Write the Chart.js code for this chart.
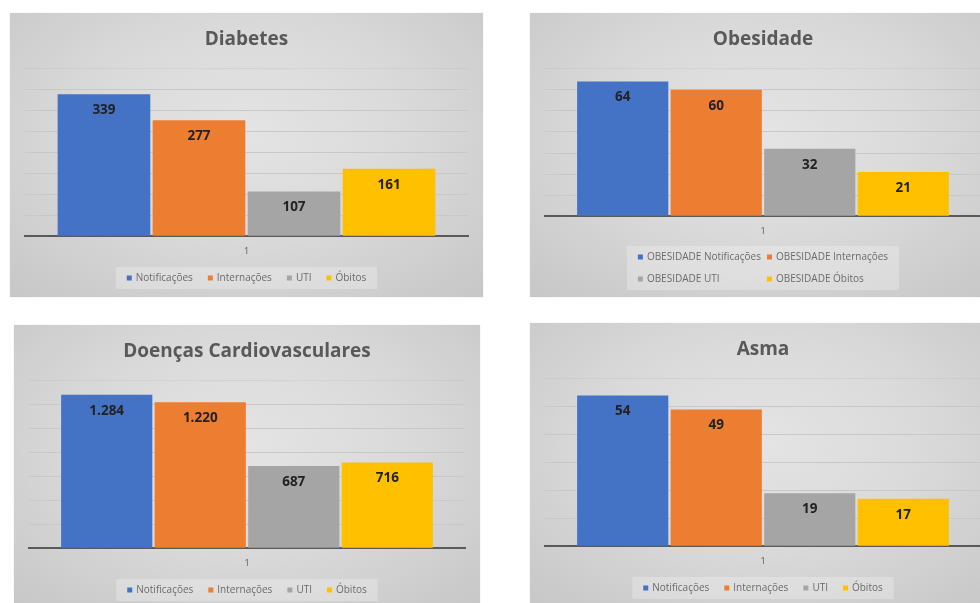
<!DOCTYPE html>
<html>
<head>
<meta charset="utf-8">
<script src="https://cdn.jsdelivr.net/npm/chart.js@4.4.1/dist/chart.umd.min.js"></script>
<style>
  html, body { margin: 0; padding: 0; background: #fff; overflow: hidden; }
  body { width: 980px; height: 603px; position: relative; }
  canvas.panel {
    position: absolute;
    background: radial-gradient(ellipse 75% 80% at 50% 42%, #e4e4e4 0%, #dadada 45%, #c6c6c6 100%);
    box-shadow: 0 0 1px rgba(0,0,0,0.15);
  }
</style>
</head>
<body>
<canvas id="diabetes" class="panel" width="473" height="284" style="left:10px;top:13px"></canvas>
<canvas id="obesidade" class="panel" width="466" height="284" style="left:530px;top:13px"></canvas>
<canvas id="cardio" class="panel" width="466" height="284" style="left:14px;top:325px"></canvas>
<canvas id="asma" class="panel" width="466" height="284" style="left:530px;top:323px"></canvas>
<script>
// one category per chart, four series
var categories = ['1'];
var seriesNames = ['Notificações', 'Internações', 'UTI', 'Óbitos'];
var obesidadeNames = ['OBESIDADE Notificações', 'OBESIDADE Internações', 'OBESIDADE UTI', 'OBESIDADE Óbitos'];
var seriesColors = ['#4472C4', '#ED7D31', '#A5A5A5', '#FFC000'];

var diabetesValues = [339, 277, 107, 161];
var obesidadeValues = [64, 60, 32, 21];
var cardioValues = [1284, 1220, 687, 716];
var asmaValues = [54, 49, 19, 17];

// value axis ranges (no tick labels are shown, only gridlines)
var diabetesAxis = [0, 400, 50];
var obesidadeAxis = [0, 70, 10];
var cardioAxis = [0, 1400, 200];
var asmaAxis = [0, 60, 10];

Chart.defaults.font.family = '"Open Sans", sans-serif';

function fmt(v) {
  return String(v).replace(/\B(?=(\d{3})+(?!\d))/g, '.');
}

// numbers just inside the top of each bar
var barValues = {
  id: 'barValues',
  afterDatasetsDraw: function(chart) {
    var ctx = chart.ctx;
    ctx.save();
    ctx.font = 'bold 13.5px "Open Sans", sans-serif';
    ctx.fillStyle = '#222';
    ctx.textAlign = 'center';
    ctx.textBaseline = 'middle';
    chart.data.datasets.forEach(function(ds, i) {
      chart.getDatasetMeta(i).data.forEach(function(bar, j) {
        ctx.fillText(fmt(ds.data[j]), bar.x, bar.y + 16);
      });
    });
    ctx.restore();
  }
};

// excel-like legend box under the plot, rows of dataset indexes
var boxLegend = {
  id: 'boxLegend',
  afterDraw: function(chart, args, opts) {
    var ctx = chart.ctx;
    var rows = opts.rows;
    var ds = chart.data.datasets;
    ctx.save();
    ctx.font = '10px "Open Sans", sans-serif';
    ctx.textBaseline = 'middle';
    var mark = 5, gap = 4, space = 15, colGap = 6;
    var w = function(i) { return mark + gap + ctx.measureText(ds[i].label).width; };
    var cx = (chart.chartArea.left + chart.chartArea.right) / 2;
    var layout = [];
    var totalW;
    if (rows.length === 1) {
      totalW = rows[0].reduce(function(s, i) { return s + w(i); }, 0) + space * (rows[0].length - 1);
      var x = cx - totalW / 2;
      rows[0].forEach(function(i) { layout.push([i, x, 0]); x += w(i) + space; });
    } else {
      var c0 = Math.max.apply(null, rows.map(function(r) { return w(r[0]); }));
      var c1 = Math.max.apply(null, rows.map(function(r) { return r[1] != null ? w(r[1]) : 0; }));
      totalW = c0 + colGap + c1;
      var x0 = cx - totalW / 2;
      rows.forEach(function(r, k) {
        layout.push([r[0], x0, k]);
        if (r[1] != null) layout.push([r[1], x0 + c0 + colGap, k]);
      });
    }
    var rowH = 22;
    var lastY = chart.height - opts.bottom;
    var firstY = lastY - rowH * (rows.length - 1);
    ctx.fillStyle = 'rgba(255,255,255,0.25)';
    ctx.fillRect(cx - totalW / 2 - 11, firstY - 11, totalW + 22, rowH * rows.length);
    layout.forEach(function(it) {
      var y = firstY + it[2] * rowH;
      ctx.fillStyle = ds[it[0]].backgroundColor;
      ctx.fillRect(it[1], y - mark / 2, mark, mark);
      ctx.fillStyle = '#6b6b6b';
      ctx.fillText(ds[it[0]].label, it[1] + mark + gap, y);
    });
    ctx.restore();
  }
};

function makeChart(id, title, names, values, axis, legendRows, bottomPad) {
  var datasets = names.map(function(n, i) {
    return {
      label: n,
      data: [values[i]],
      backgroundColor: seriesColors[i],
      barPercentage: 0.975,
      categoryPercentage: 0.858
    };
  });
  return new Chart(document.getElementById(id), {
    type: 'bar',
    data: { labels: categories, datasets: datasets },
    plugins: [barValues, boxLegend],
    options: {
      responsive: false,
      animation: false,
      layout: { padding: { left: 15, right: 15, top: 0, bottom: bottomPad } },
      plugins: {
        legend: { display: false },
        tooltip: { enabled: false },
        title: {
          display: true,
          text: title,
          color: '#595959',
          font: { size: 19, weight: 'bold' },
          padding: { top: 15, bottom: 18 }
        },
        boxLegend: { rows: legendRows, bottom: legendRows.length > 1 ? 18 : 19 }
      },
      scales: {
        x: {
          grid: { display: false, drawTicks: false },
          border: { display: true, color: '#5a5a5a', width: 2 },
          ticks: { color: '#595959', font: { size: 9 }, padding: 10 }
        },
        y: {
          min: axis[0],
          max: axis[1],
          ticks: { display: false, stepSize: axis[2] },
          border: { display: false },
          grid: {
            drawTicks: false,
            color: function(c) { return c.tick.value === axis[1] ? 'rgba(190,190,190,0.35)' : '#c8c8c8'; }
          }
        }
      }
    }
  });
}

makeChart('diabetes', 'Diabetes', seriesNames, diabetesValues, diabetesAxis, [[0, 1, 2, 3]], 30);
makeChart('obesidade', 'Obesidade', obesidadeNames, obesidadeValues, obesidadeAxis, [[0, 1], [2, 3]], 50);
makeChart('cardio', 'Doenças Cardiovasculares', seriesNames, cardioValues, cardioAxis, [[0, 1, 2, 3]], 30);
makeChart('asma', 'Asma', seriesNames, asmaValues, asmaAxis, [[0, 1, 2, 3]], 30);
</script>
</body>
</html>
